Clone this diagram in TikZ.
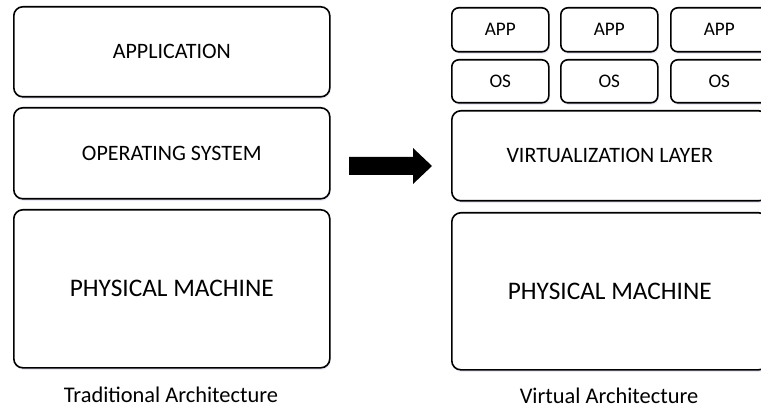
\documentclass[tikz,border=0pt]{standalone}
\usepackage{fontspec}
\setmainfont{Carlito}
\usetikzlibrary{shadows}
\begin{document}
\begin{tikzpicture}[x=1pt,y=-1pt,
  layer/.style={draw=black, line width=1.6pt, rounded corners=9pt, fill=white,
    drop shadow={opacity=0.12, shadow xshift=0.8pt, shadow yshift=-2pt, fill=blue!40!gray},
    inner sep=0pt, anchor=north west},
  small/.style={layer, rounded corners=7pt},
  midtext/.style={font=\fontsize{22}{25}\selectfont},
  bigtext/.style={font=\fontsize{25.3}{28}\selectfont},
  smalltext/.style={font=\fontsize{19.2}{22}\selectfont},
  caption/.style={font=\fontsize{22.4}{25}\selectfont, inner sep=0pt}]
  \useasboundingbox (0,0) rectangle (761,409);
  \clip (0,0) rectangle (761,409);

  % traditional stack
  \node[layer, midtext, minimum width=316pt, minimum height=90pt]
    (app) at (13,6) {APPLICATION};
  \node[layer, midtext, minimum width=316pt, minimum height=91pt]
    (os) at (13,107) {OPERATING SYSTEM};
  \node[layer, bigtext, minimum width=316pt, minimum height=158pt]
    (pm) at (13,209) {PHYSICAL MACHINE};
  \node[caption] (tcap) at (171,395) {Traditional Architecture};

  % block arrow between the two stacks
  \fill[black] (349,157) -- (413,157) -- (413,148) -- (432,166)
    -- (413,184) -- (413,175) -- (349,175) -- cycle;

  % virtualised stack
  \foreach \i/\x in {1/451,2/560,3/670}{
    \node[small, smalltext, minimum width=97pt, minimum height=44pt]
      (vapp\i) at (\x,7) {APP};
    \node[small, smalltext, minimum width=97pt, minimum height=43pt]
      (vos\i) at (\x,59) {OS};
  }
  \node[layer, midtext, minimum width=316pt, minimum height=90pt]
    (virt) at (451,110) {VIRTUALIZATION LAYER};
  \node[layer, bigtext, minimum width=316pt, minimum height=157pt]
    (vpm) at (451,212) {PHYSICAL MACHINE};
  \node[caption] (vcap) at (609,396) {Virtual Architecture};
\end{tikzpicture}
\end{document}
